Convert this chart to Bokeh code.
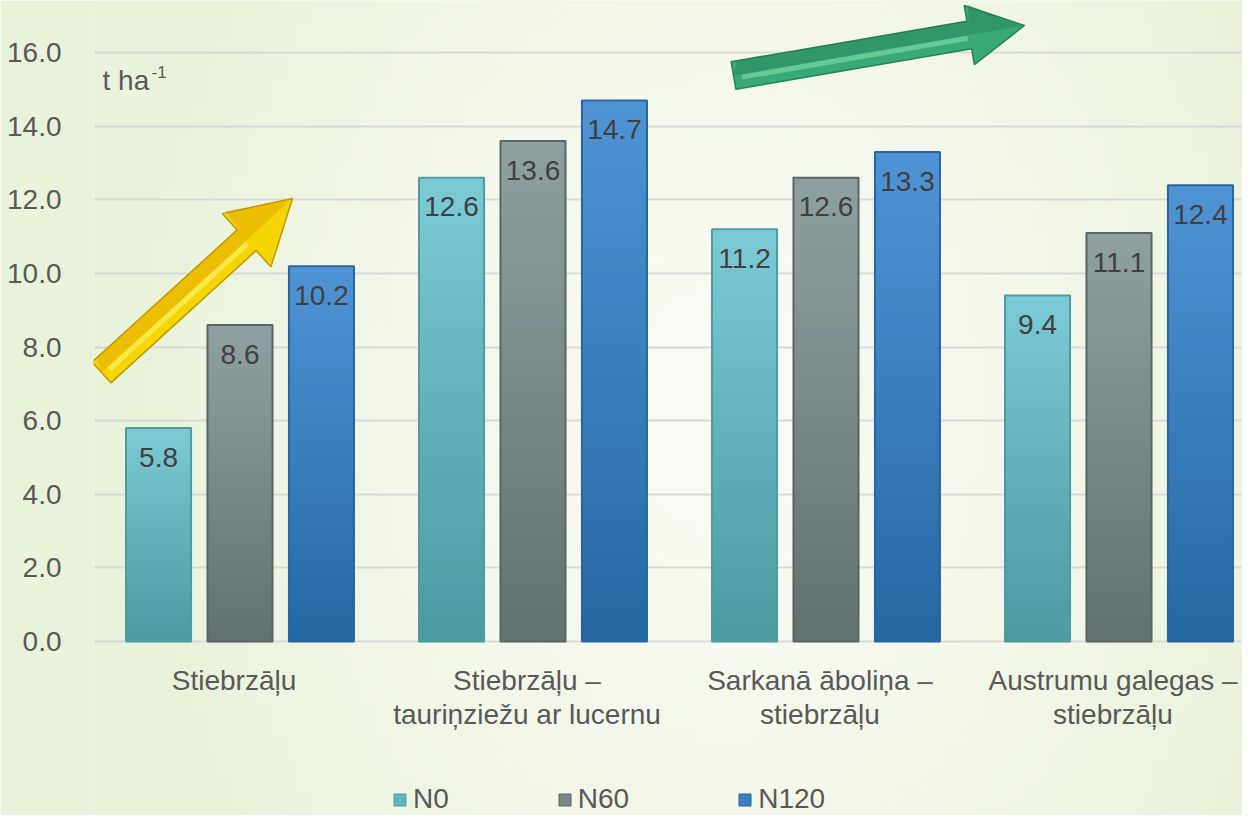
import numpy as np
from bokeh.plotting import figure
from bokeh.models import Range1d, FixedTicker, PrintfTickFormatter, Legend, LegendItem
from bokeh.core.properties import value
from bokeh.embed import file_html
from bokeh.resources import INLINE

# ---------------- data ----------------
categories = ["Stiebrzāļu",
              "Stiebrzāļu –\ntauriņziežu ar lucernu",
              "Sarkanā āboliņa –\nstiebrzāļu",
              "Austrumu galegas –\nstiebrzāļu"]
series_names = ["N0", "N60", "N120"]
n0 = [5.8, 12.6, 11.2, 9.4]
n60 = [8.6, 13.6, 12.6, 11.1]
n120 = [10.2, 14.7, 13.3, 12.4]
y_ticks = [0, 2, 4, 6, 8, 10, 12, 14, 16]
unit_label = "t ha"
unit_sup = "-1"

# ---------------- styles ----------------
FONT = "Liberation Sans"
top_cols = ["#7acbd3", "#8fa0a0", "#4f95d6"]
bot_cols = ["#4a9aa0", "#617270", "#2367a3"]
edge_cols = ["#4f9ba1", "#5a6664", "#2d64a0"]
mid_cols = ["#5fb5bd", "#778786", "#3a7fc0"]
offsets = [-0.278, 0.0, 0.278]
bar_w = 0.222

W, H = 1242, 815
left_border = 93
px_per_x = 293.0
px_per_y = 36.8
x0 = -0.5
x1 = x0 + (W - left_border) / px_per_x
y_bottom = -(H - 641) / px_per_y
y_top = 641 / px_per_y


def pg(px, py):
    """picture pixel -> data coordinates (for decorations only)"""
    return (px - left_border) / px_per_x + x0, (641 - py) / px_per_y


p = figure(width=W, height=H, output_backend="svg", toolbar_location=None,
           x_range=Range1d(x0, x1), y_range=Range1d(y_bottom, y_top),
           x_axis_location=None, min_border_left=left_border, min_border_right=0,
           min_border_top=0, min_border_bottom=0)
p.outline_line_color = None
p.border_fill_color = "#e9f2da"
p.background_fill_color = "#f6f9f0"

# background soft gradient (decoration)
gh, gw = 60, 90
u = np.linspace(0, 1, gw)[None, :]
v = np.linspace(0, 1, gh)[:, None]
d = np.sqrt(((u - 0.55) / 0.55) ** 2 + ((v - 0.5) / 1.0) ** 2)
t = np.clip(d, 0, 1) ** 1.4
c_center = np.array([250, 251, 245])
c_edge = np.array([233, 242, 218])
rgb = c_center[None, None, :] * (1 - t[..., None]) + c_edge[None, None, :] * t[..., None]
img = np.empty((gh, gw), dtype=np.uint32)
view = img.view(dtype=np.uint8).reshape((gh, gw, 4))
view[..., 0] = rgb[..., 0].astype(np.uint8)
view[..., 1] = rgb[..., 1].astype(np.uint8)
view[..., 2] = rgb[..., 2].astype(np.uint8)
view[..., 3] = 255
p.image_rgba(image=[img], x=x0, y=y_bottom, dw=x1 - x0, dh=y_top - y_bottom, level="image")

# axis / grid
p.yaxis.ticker = FixedTicker(ticks=y_ticks)
p.yaxis.formatter = PrintfTickFormatter(format="%.1f")
p.yaxis.axis_line_color = None
p.yaxis.major_tick_line_color = None
p.yaxis.minor_tick_line_color = None
p.yaxis.major_label_standoff = 26
p.yaxis.major_label_text_font_size = "28px"
p.yaxis.major_label_text_font = FONT
p.yaxis.major_label_text_color = "#595959"
p.ygrid.ticker = FixedTicker(ticks=y_ticks)
p.ygrid.grid_line_color = "#d9d9d9"
p.ygrid.grid_line_width = 2
p.xgrid.visible = False

# bars with vertical gradient
def hex2rgb(h):
    h = h.lstrip("#")
    return np.array([int(h[i:i + 2], 16) for i in (0, 2, 4)], dtype=float)

values = [n0, n60, n120]
NSTRIP = 40
legend_items = []
for s, vals in enumerate(values):
    ctop, cbot = hex2rgb(top_cols[s]), hex2rgb(bot_cols[s])
    xs, bots, tops, cols = [], [], [], []
    for g, val in enumerate(vals):
        step = val / NSTRIP
        for k in range(NSTRIP):
            f = (k + 0.5) / NSTRIP
            c = cbot * (1 - f) + ctop * f
            xs.append(g + offsets[s])
            bots.append(step * k)
            tops.append(min(step * (k + 1) + 0.06, val))
            cols.append("#%02x%02x%02x" % tuple(int(round(cc)) for cc in c))
    p.vbar(x=xs, bottom=bots, top=tops, width=bar_w, fill_color=cols, line_color=None)
    xg = [g + offsets[s] for g in range(len(vals))]
    p.vbar(x=xg, bottom=0, top=vals, width=bar_w, fill_color=None,
           line_color=edge_cols[s], line_width=2)
    p.text(x=xg, y=vals, text=["%.1f" % v_ for v_ in vals], text_align="center",
           text_baseline="middle", y_offset=29, text_font=value(FONT),
           text_font_size="28px", text_color="#404040")
    proxy = p.vbar(x=[0], bottom=[0], top=[0], width=0.0, fill_color=mid_cols[s],
                   line_color=edge_cols[s], line_width=1)
    legend_items.append(LegendItem(label=series_names[s], renderers=[proxy]))

# category labels
line1 = [c.split("\n")[0] for c in categories]
line2 = [c.split("\n")[1] if "\n" in c else "" for c in categories]
gx = list(range(len(categories)))
p.text(x=gx, y=[pg(0, 680)[1]] * len(gx), text=line1, text_align="center",
       text_baseline="middle", x_offset=-6, text_font=value(FONT), text_font_size="28px",
       text_color="#595959")
p.text(x=gx, y=[pg(0, 714)[1]] * len(gx), text=line2, text_align="center",
       text_baseline="middle", x_offset=-6, text_font=value(FONT), text_font_size="28px",
       text_color="#595959")

# unit label
ux_, uy_ = pg(102, 80)
p.text(x=[ux_], y=[uy_], text=[unit_label], text_align="left", text_baseline="middle",
       text_font=value(FONT), text_font_size="28px", text_color="#595959")
p.text(x=[ux_], y=[uy_], text=[unit_sup], text_align="left", text_baseline="middle",
       x_offset=49, y_offset=-9, text_font=value(FONT), text_font_size="17px",
       text_color="#595959")

# decorative arrows
def arrow(xa, ya, xb, yb, sw, hw, hl, fill, edge, hi, dark):
    dx, dy = xb - xa, yb - ya
    L = np.hypot(dx, dy)
    ux2, uy2 = dx / L, dy / L
    nx, ny = -uy2, ux2
    bx, by = xb - ux2 * hl, yb - uy2 * hl
    pts = [(xa + nx * sw / 2, ya + ny * sw / 2), (bx + nx * sw / 2, by + ny * sw / 2),
           (bx + nx * hw / 2, by + ny * hw / 2), (xb, yb),
           (bx - nx * hw / 2, by - ny * hw / 2), (bx - nx * sw / 2, by - ny * sw / 2),
           (xa - nx * sw / 2, ya - ny * sw / 2)]
    dpts = [pg(a, b) for a, b in pts]
    p.patch([q[0] for q in dpts], [q[1] for q in dpts], fill_color=fill,
            line_color=edge, line_width=1.5)
    sh = [(xa, ya), (bx, by), (bx - nx * sw / 2 + ux2 * 2, by - ny * sw / 2 + uy2 * 2),
          (xa - nx * sw / 2 + ux2 * 6, ya - ny * sw / 2 + uy2 * 6)]
    dsh = [pg(a, b) for a, b in sh]
    p.patch([q[0] for q in dsh], [q[1] for q in dsh], fill_color=dark,
            fill_alpha=0.3, line_color=None)
    hd = [(bx, by), (xb - ux2 * 3, yb - uy2 * 3), (bx - nx * hw / 2 + ux2 * 4, by - ny * hw / 2 + uy2 * 4)]
    dhd = [pg(a, b) for a, b in hd]
    p.patch([q[0] for q in dhd], [q[1] for q in dhd], fill_color=dark,
            fill_alpha=0.3, line_color=None)
    h0 = pg(xa + ux2 * 8 + nx * 3, ya + uy2 * 8 + ny * 3)
    h1 = pg(bx - ux2 * 2 + nx * 3, by - uy2 * 2 + ny * 3)
    p.line([h0[0], h1[0]], [h0[1], h1[1]], line_color=hi, line_width=5, line_alpha=0.55)

arrow(101, 372, 292, 198, 28, 72, 62, "#f7d500", "#c09a00", "#fff48a", "#d09000")
arrow(733, 75, 1024, 25, 28, 60, 56, "#3aa877", "#24835a", "#8be3b4", "#1f6e4a")

legend = Legend(items=legend_items, orientation="horizontal", location=(299, 0),
                spacing=108, glyph_width=15, glyph_height=15, label_standoff=6,
                padding=0, margin=0, border_line_color=None, background_fill_alpha=0,
                label_text_font_size="28px", label_text_color="#595959",
                label_text_font=FONT)
p.add_layout(legend)

open("out.html", "w").write(file_html(p, INLINE))
